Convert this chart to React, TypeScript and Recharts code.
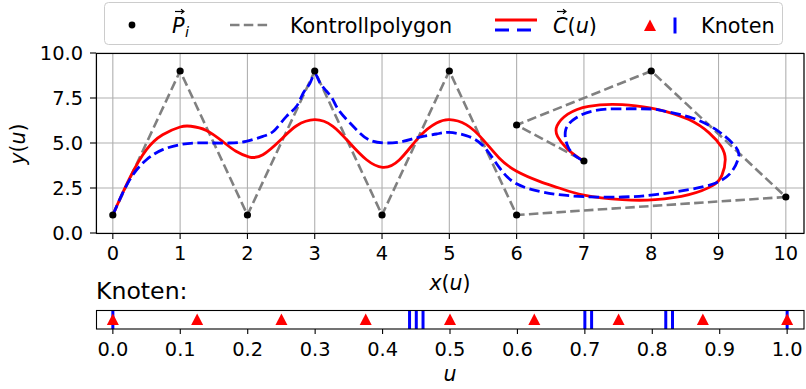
import React from 'react'
import { ComposedChart, Line, XAxis, YAxis, CartesianGrid, ReferenceLine } from 'recharts'

// control points P_i (in polygon order)
const ctrlX = [0, 1, 2, 3, 4, 5, 6, 10, 8, 6, 7]
const ctrlY = [1, 9, 1, 9, 1, 9, 1, 2, 9, 6, 4]

// red curve C(u)
const redX = [0, 0.25, 0.5, 0.74, 1.0, 1.16, 1.39, 1.63, 1.83, 2.03, 2.23, 2.5, 2.73, 3.0, 3.27, 3.52, 3.77, 4.01, 4.26, 4.56, 4.81, 5.0, 5.25, 5.5, 5.74, 6.0, 6.34, 6.63, 7.0, 7.57, 8.06, 8.56, 8.91, 9.05, 9.1, 9.04, 8.86, 8.56, 8.21, 8.0, 7.57, 7.07, 6.76, 6.6, 6.61, 6.74, 6.88, 7.0]
const redY = [1, 3.05, 4.63, 5.46, 5.89, 5.93, 5.7, 5.09, 4.54, 4.22, 4.35, 5.2, 5.96, 6.3, 5.93, 5.0, 4.07, 3.65, 4.07, 5.37, 6.11, 6.3, 6.02, 5.19, 4.17, 3.43, 2.87, 2.5, 2.1, 1.85, 1.85, 2.13, 2.63, 3.2, 4.07, 4.8, 5.56, 6.3, 6.76, 6.94, 7.13, 7.04, 6.6, 5.95, 5.35, 4.72, 4.28, 3.98]

// blue dashed curve C(u)
const blueX = [0, 0.25, 0.5, 0.74, 1.0, 1.24, 1.49, 1.73, 1.98, 2.23, 2.4, 2.58, 2.73, 2.83, 2.93, 3.0, 3.07, 3.17, 3.27, 3.37, 3.62, 3.82, 4.06, 4.31, 4.56, 4.81, 5.0, 5.25, 5.5, 5.75, 6.0, 6.34, 6.63, 7.0, 7.57, 8.06, 8.56, 8.96, 9.2, 9.3, 9.25, 9.0, 8.61, 8.21, 8.0, 7.57, 7.17, 6.88, 6.73, 6.75, 6.85, 7.0]
const blueY = [1, 2.95, 4.07, 4.63, 4.91, 5.0, 5.0, 5.0, 5.09, 5.37, 5.7, 6.48, 7.04, 7.78, 8.33, 8.85, 8.4, 7.9, 7.41, 6.76, 5.74, 5.15, 5.0, 5.09, 5.33, 5.5, 5.59, 5.41, 4.85, 3.6, 2.73, 2.31, 2.13, 2.02, 2.0, 2.13, 2.41, 2.78, 3.43, 4.26, 4.81, 5.65, 6.39, 6.76, 6.89, 6.9, 6.81, 6.39, 5.74, 4.91, 4.35, 3.98]

// knots
const redKnots = [0, 0.125, 0.25, 0.375, 0.5, 0.625, 0.75, 0.875, 1.0]
const blueKnots = [0, 0.44, 0.45, 0.46, 0.7, 0.71, 0.82, 0.83, 1.0]

// ticks
const xTicks = [0, 1, 2, 3, 4, 5, 6, 7, 8, 9, 10]
const yTicks = [0, 2.5, 5, 7.5, 10]
const uTicks = [0, 0.1, 0.2, 0.3, 0.4, 0.5, 0.6, 0.7, 0.8, 0.9, 1.0]

const toPoints = (xs: number[], ys: number[]) => xs.map((x, i) => ({ x, y: ys[i] }))
const ctrlPoints = toPoints(ctrlX, ctrlY)
const redCurve = toPoints(redX, redY)
const blueCurve = toPoints(blueX, blueY)
const knotPoints = redKnots.map(u => ({ x: u, y: 0.5 }))

const font = "'DejaVu Sans', sans-serif"
const tickStyle = { fill: '#000', fontSize: 19.4, fontFamily: font }
const tickLine = { stroke: '#000', strokeWidth: 1.1 }

const renderTriangle = (props: any) => {
  const { cx, cy, index } = props
  return (
    <polygon
      key={`tri-${index}`}
      points={`${cx},${cy - 6} ${cx - 6},${cy + 5.5} ${cx + 6},${cy + 5.5}`}
      fill="#ff0000"
    />
  )
}

function Overlay() {
  return (
    <svg width={806} height={389} style={{ position: 'absolute', left: 0, top: 0, pointerEvents: 'none' }} fontFamily={font}>
      {/* frames */}
      <rect x={96.5} y={53.5} width={707.5} height={180} fill="none" stroke="#000" strokeWidth={1.1} />
      <rect x={96.5} y={310.5} width={707.5} height={18.5} fill="none" stroke="#000" strokeWidth={1.1} />

      {/* legend */}
      <rect x={104.5} y={2.5} width={678} height={42} rx={4} fill="#fff" stroke="#cccccc" strokeWidth={1} />
      <circle cx={132} cy={25} r={3.4} fill="#000" />
      <text x={172} y={32.5} fontSize={20.8} fontStyle="italic">P</text>
      <text x={185} y={36.5} fontSize={14.5} fontStyle="italic">i</text>
      <path d="M175 11.5 H183" stroke="#000" strokeWidth={1.2} />
      <path d="M181 9.3 L184 11.5 L181 13.7" stroke="#000" strokeWidth={1.1} fill="none" />
      <line x1={230} y1={25} x2={271} y2={25} stroke="#808080" strokeWidth={2.6} strokeDasharray="9.5 4.3" />
      <text x={290} y={32.5} fontSize={20.8}>Kontrollpolygon</text>
      <line x1={495} y1={20} x2={537} y2={20} stroke="#ff0000" strokeWidth={2.8} />
      <line x1={495} y1={30} x2={537} y2={30} stroke="#0000ff" strokeWidth={2.8} strokeDasharray="14 8" />
      <text x={553} y={32.5} fontSize={20.8}>
        <tspan fontStyle="italic">C</tspan>(<tspan fontStyle="italic">u</tspan>)
      </text>
      <path d="M557 11.5 H565" stroke="#000" strokeWidth={1.2} />
      <path d="M563 9.3 L566 11.5 L563 13.7" stroke="#000" strokeWidth={1.1} fill="none" />
      <polygon points="650,19.5 644,31 656,31" fill="#ff0000" />
      <line x1={675} y1={17.5} x2={675} y2={33.5} stroke="#0000ff" strokeWidth={3} />
      <text x={701} y={32.5} fontSize={20.8}>Knoten</text>

      {/* axis labels */}
      <text x={450} y={290} fontSize={20.5} textAnchor="middle">
        <tspan fontStyle="italic">x</tspan>(<tspan fontStyle="italic">u</tspan>)
      </text>
      <text transform="translate(24.5,144) rotate(-90)" fontSize={20.5} textAnchor="middle">
        <tspan fontStyle="italic">y</tspan>(<tspan fontStyle="italic">u</tspan>)
      </text>
      <text x={450} y={381} fontSize={20.5} textAnchor="middle" fontStyle="italic">u</text>
      <text x={96} y={299} fontSize={23.6}>Knoten:</text>
    </svg>
  )
}

export default function App() {
  return (
    <div style={{ position: 'absolute', left: 0, top: 0, width: 806, height: 389, background: '#fff', fontFamily: font }}>
      <div style={{ position: 'absolute', left: 0, top: 0 }}>
        <ComposedChart width={806} height={270} margin={{ top: 53, right: 2, bottom: 7, left: 36 }}>
          <CartesianGrid stroke="#b0b0b0" strokeWidth={1.1} />
          <XAxis
            type="number"
            dataKey="x"
            domain={[-0.25, 10.27]}
            ticks={xTicks}
            allowDataOverflow
            axisLine={false}
            tickLine={tickLine}
            tickSize={6}
            tickMargin={7.5}
            tick={tickStyle}
            height={30}
            interval={0}
          />
          <YAxis
            type="number"
            dataKey="y"
            domain={[0, 10]}
            ticks={yTicks}
            allowDataOverflow
            axisLine={false}
            tickLine={tickLine}
            tickSize={6}
            tickMargin={7}
            tick={tickStyle}
            tickFormatter={(v: number) => v.toFixed(1)}
            width={60}
            interval={0}
          />
          <Line data={ctrlPoints} dataKey="y" type="linear" stroke="#808080" strokeWidth={2.6} strokeDasharray="9.5 4.3" dot={false} activeDot={false} isAnimationActive={false} />
          <Line data={redCurve} dataKey="y" type="natural" stroke="#ff0000" strokeWidth={2.8} dot={false} activeDot={false} isAnimationActive={false} />
          <Line data={blueCurve} dataKey="y" type="natural" stroke="#0000ff" strokeWidth={2.8} strokeDasharray="10.5 4.5" dot={false} activeDot={false} isAnimationActive={false} />
          <Line data={ctrlPoints} dataKey="y" type="linear" stroke="none" dot={{ r: 3.6, fill: '#000', stroke: 'none' }} activeDot={false} isAnimationActive={false} />
        </ComposedChart>
      </div>
      <div style={{ position: 'absolute', left: 0, top: 300 }}>
        <ComposedChart width={806} height={89} margin={{ top: 10, right: 2, bottom: 20, left: 96 }}>
          <XAxis
            type="number"
            dataKey="x"
            domain={[-0.025, 1.025]}
            ticks={uTicks}
            allowDataOverflow
            axisLine={false}
            tickLine={tickLine}
            tickSize={5}
            tickMargin={8.5}
            tick={tickStyle}
            tickFormatter={(v: number) => v.toFixed(1)}
            height={40}
            interval={0}
          />
          <YAxis type="number" dataKey="y" domain={[0, 1]} hide />
          {blueKnots.map((k, i) => (
            <ReferenceLine key={i} x={k} stroke="#0000ff" strokeWidth={3} />
          ))}
          <Line data={knotPoints} dataKey="y" type="linear" stroke="none" dot={renderTriangle} activeDot={false} isAnimationActive={false} />
        </ComposedChart>
      </div>
      <Overlay />
    </div>
  )
}
